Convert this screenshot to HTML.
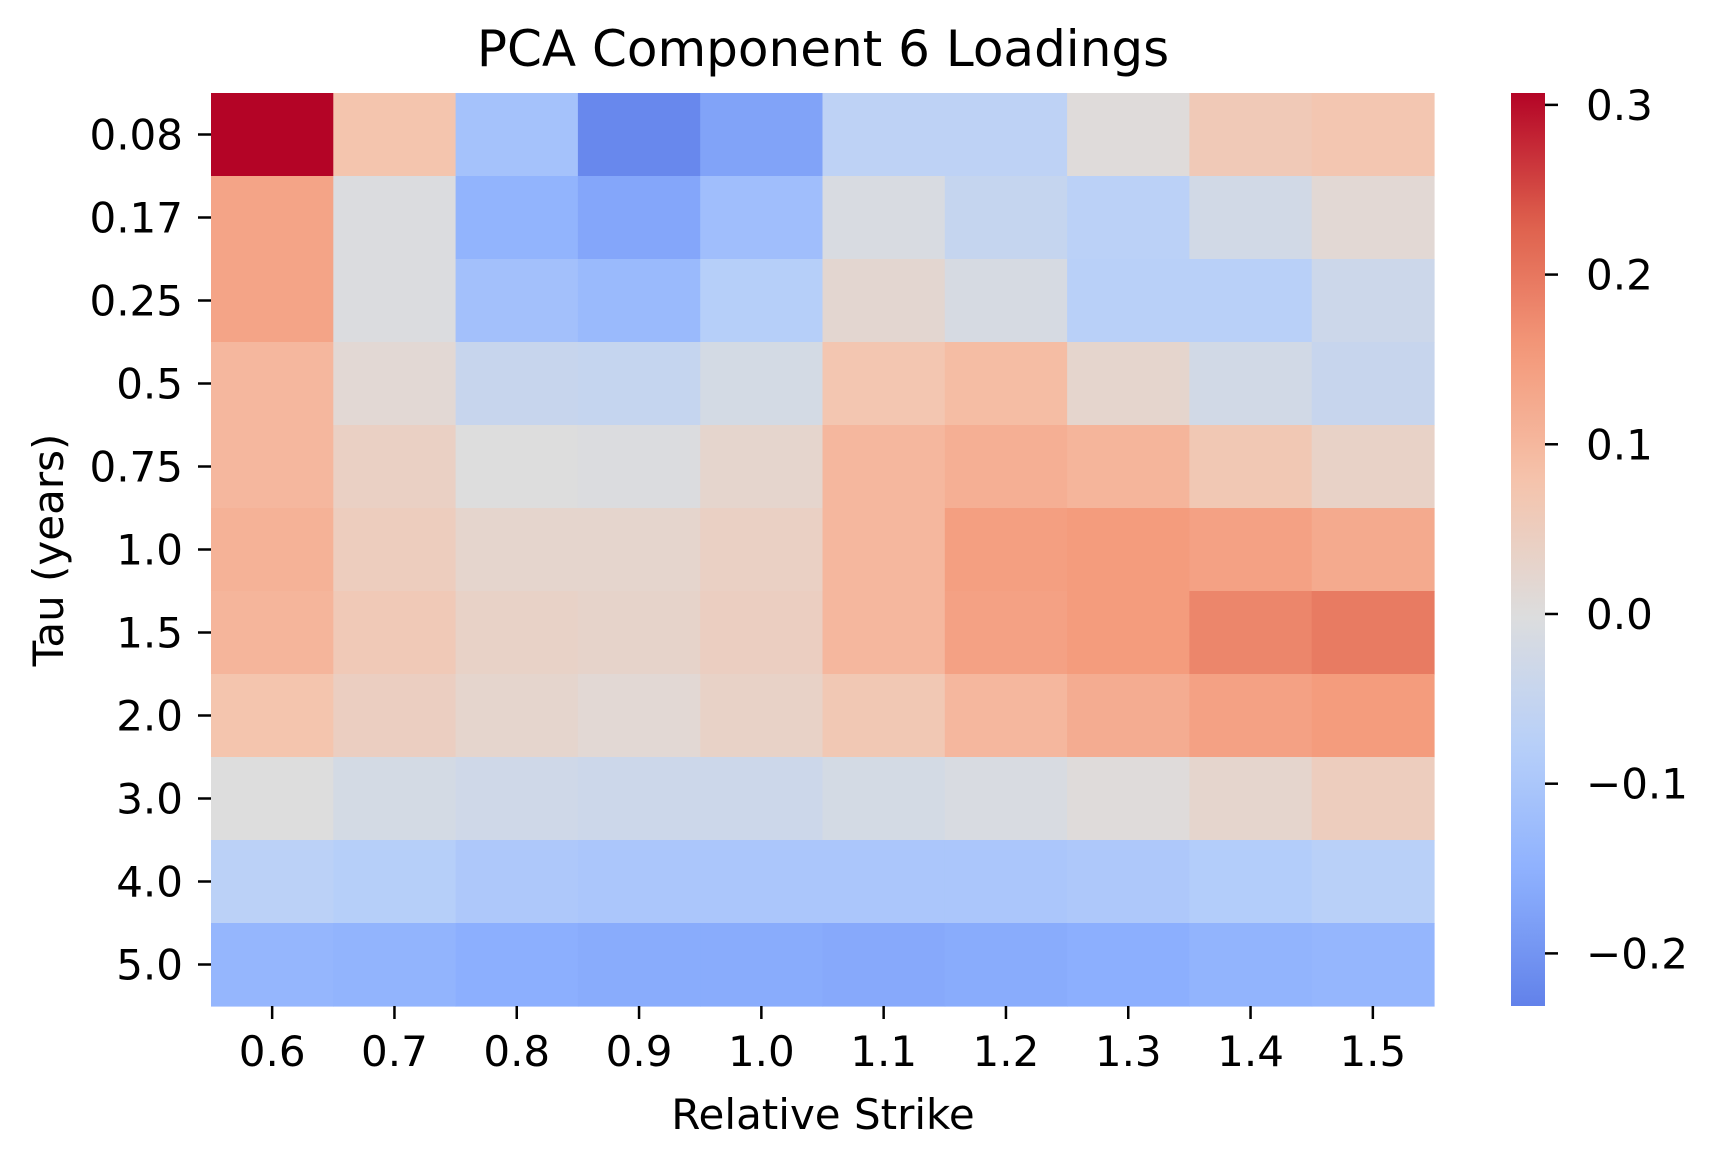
<!DOCTYPE html>
<html><head><meta charset="utf-8"><style>
html,body{margin:0;padding:0;background:#fff;}
svg{display:block;font-family:"DejaVu Sans","Liberation Sans",sans-serif;}
</style></head><body>
<svg id="chart" width="1717" height="1166" xmlns="http://www.w3.org/2000/svg">
<defs><linearGradient id="cbg" x1="0" y1="1" x2="0" y2="0"></linearGradient></defs>
<text x="823" y="66" font-size="50" text-anchor="middle">PCA Component 6 Loadings</text>
<text x="823" y="1129" font-size="42" text-anchor="middle">Relative Strike</text>
<text x="0" y="0" font-size="42" text-anchor="middle" transform="translate(63,550) rotate(-90)">Tau (years)</text>
<g id="cells"></g><g id="axes"></g><g id="cbar"></g>
</svg>
<script>
const strikes = ["0.6","0.7","0.8","0.9","1.0","1.1","1.2","1.3","1.4","1.5"];
const taus = ["0.08","0.17","0.25","0.5","0.75","1.0","1.5","2.0","3.0","4.0","5.0"];
const row008 = [0.307,0.075,-0.11,-0.22,-0.175,-0.065,-0.065,0.005,0.06,0.07];
const row017 = [0.135,-0.005,-0.145,-0.17,-0.12,-0.01,-0.05,-0.07,-0.025,0.015];
const row025 = [0.135,-0.005,-0.115,-0.13,-0.08,0.02,-0.015,-0.075,-0.075,-0.035];
const row05 = [0.1,0.015,-0.045,-0.05,-0.02,0.07,0.09,0.025,-0.025,-0.045];
const row075 = [0.1,0.04,0.0,-0.005,0.025,0.1,0.115,0.105,0.065,0.035];
const row10 = [0.11,0.05,0.025,0.025,0.04,0.1,0.145,0.15,0.14,0.125];
const row15 = [0.105,0.06,0.035,0.03,0.045,0.1,0.14,0.15,0.18,0.195];
const row20 = [0.075,0.045,0.025,0.015,0.035,0.065,0.1,0.12,0.14,0.15];
const row30 = [0.0,-0.02,-0.03,-0.035,-0.035,-0.02,-0.01,0.005,0.025,0.05];
const row40 = [-0.07,-0.08,-0.095,-0.1,-0.1,-0.1,-0.1,-0.095,-0.085,-0.075];
const row50 = [-0.14,-0.145,-0.155,-0.16,-0.16,-0.165,-0.16,-0.155,-0.145,-0.14];
const cbTicks = [0.3,0.2,0.1,0.0,-0.1,-0.2];
const vmin = -0.231, vmax = 0.307;

const values = [row008,row017,row025,row05,row075,row10,row15,row20,row30,row40,row50];
const NS="http://www.w3.org/2000/svg";
const X0=211, X1=1434, Y0=93, Y1=1006;
const cw=(X1-X0)/strikes.length, ch=(Y1-Y0)/taus.length;
const xPos=i=>X0+i*cw, yPos=j=>Y0+j*ch;
const nlim=Math.max(Math.abs(vmin),Math.abs(vmax));
const stops=[[59,76,192],[98,130,234],[141,176,254],[184,208,249],[221,221,221],[245,196,173],[244,154,123],[222,96,77],[180,4,38]];
function cmap(v){let t=(v+nlim)/(2*nlim);t=Math.max(0,Math.min(1,t));const f=t*8,i=Math.min(7,Math.floor(f)),r=f-i;const a=stops[i],b=stops[i+1];return `rgb(${a.map((c,k)=>Math.round(c+(b[k]-c)*r)).join(",")})`;}
function mk(tag,attrs,parent){const e=document.createElementNS(NS,tag);for(const k in attrs)e.setAttribute(k,attrs[k]);parent.appendChild(e);return e;}
const cells=document.getElementById('cells'), axes=document.getElementById('axes'), cbar=document.getElementById('cbar');
values.forEach((row,j)=>row.forEach((v,i)=>{
  const r=mk('rect',{x:xPos(i),y:yPos(j),width:cw+0.6,height:ch+0.6,fill:cmap(v)},cells);
  
  
}));
strikes.forEach((s,i)=>{
  const cx=xPos(i)+cw/2;
  const l=mk('line',{x1:cx,x2:cx,y1:Y1,y2:Y1+13,stroke:'#000','stroke-width':2.5},axes);
  
  
  const t=mk('text',{x:cx,y:1066,'font-size':42,'text-anchor':'middle'},axes);t.textContent=s;
  
  
});
taus.forEach((s,j)=>{
  const cy=yPos(j)+ch/2;
  const l=mk('line',{x1:X0-13,x2:X0,y1:cy,y2:cy,stroke:'#000','stroke-width':2.5},axes);
  
  
  const t=mk('text',{x:X0-28,y:cy+15,'font-size':42,'text-anchor':'end'},axes);t.textContent=s;
  
  
});
// colorbar
const CB0=1511, CB1=1545;
const cy=v=>Y1-(v-vmin)/(vmax-vmin)*(Y1-Y0);
const g=document.getElementById('cbg');
for(let k=0;k<=40;k++){const v=vmin+(vmax-vmin)*k/40;mk('stop',{offset:(k/40),'stop-color':cmap(v)},g);}
const cb=mk('rect',{x:CB0,y:Y0,width:CB1-CB0,height:Y1-Y0,fill:'url(#cbg)'},cbar);


cbTicks.forEach(v=>{
  const y=cy(v);
  const l=mk('line',{x1:CB1,x2:CB1+13,y1:y,y2:y,stroke:'#000','stroke-width':2.5},cbar);
  
  
  const t=mk('text',{x:CB1+41,y:y+15,'font-size':42},cbar);t.textContent=(v<0?'\u2212':'')+Math.abs(v).toFixed(1);
  
  
});
</script>
</body></html>
